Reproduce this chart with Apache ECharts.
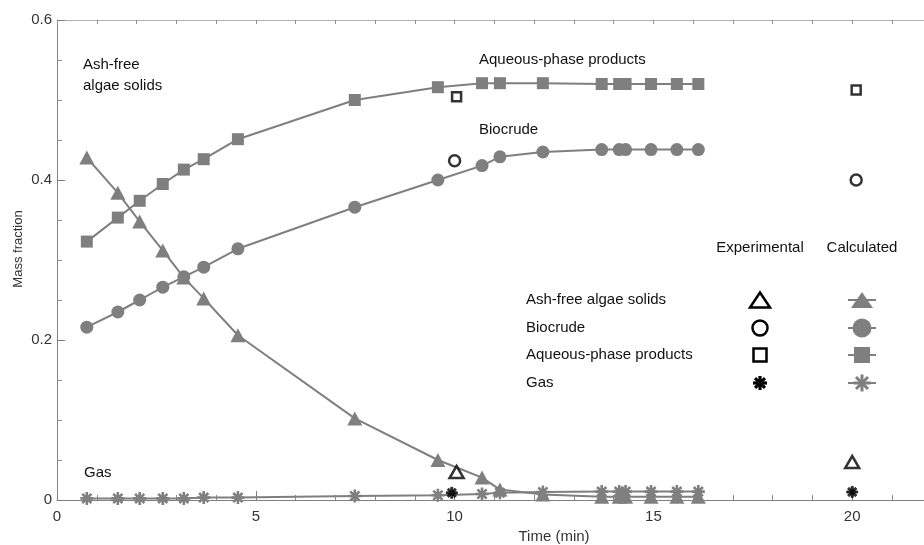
<!DOCTYPE html>
<html>
<head>
<meta charset="utf-8">
<script src="https://cdn.jsdelivr.net/npm/echarts@6/dist/echarts.min.js"></script>
<style>
  html, body { margin: 0; padding: 0; background: #fff; }
  #chart { width: 924px; height: 545px; }
</style>
</head>
<body>
<div id="chart"></div>
<script>
// Model time grid (min) shared by all calculated curves
const time = [0.75, 1.53, 2.08, 2.66, 3.19, 3.69, 4.55, 7.49, 9.58, 10.69, 11.14, 12.22, 13.7, 14.14, 14.3, 14.94, 15.59, 16.13];

// Calculated mass fractions
const solidsCalc   = [0.428, 0.384, 0.348, 0.312, 0.278, 0.252, 0.206, 0.102, 0.050, 0.028, 0.013, 0.007, 0.004, 0.004, 0.004, 0.004, 0.004, 0.004];
const biocrudeCalc = [0.216, 0.235, 0.250, 0.266, 0.279, 0.291, 0.314, 0.366, 0.400, 0.418, 0.429, 0.435, 0.438, 0.438, 0.438, 0.438, 0.438, 0.438];
const aqueousCalc  = [0.323, 0.353, 0.374, 0.395, 0.413, 0.426, 0.451, 0.500, 0.516, 0.521, 0.521, 0.521, 0.520, 0.520, 0.520, 0.520, 0.520, 0.520];
const gasCalc      = [0.002, 0.002, 0.002, 0.002, 0.002, 0.003, 0.003, 0.005, 0.006, 0.0075, 0.009, 0.010, 0.0105, 0.0105, 0.0105, 0.0105, 0.0105, 0.0105];

// Experimental measurements
const solidsExpTime   = [10.05, 20.0];
const solidsExp       = [0.035, 0.0475];
const biocrudeExpTime = [10.0, 20.1];
const biocrudeExp     = [0.424, 0.400];
const aqueousExpTime  = [10.05, 20.1];
const aqueousExp      = [0.504, 0.5125];
const gasExpTime      = [9.93, 20.0];
const gasExp          = [0.009, 0.010];

// Axis ticks and legend text
const yTicks = [0, 0.2, 0.4, 0.6];
const seriesNames = ['Ash-free algae solids', 'Biocrude', 'Aqueous-phase products', 'Gas'];
const legendHeads = ['Experimental', 'Calculated'];

const FONT = '"Liberation Sans", Arial, Helvetica, sans-serif';
const GREY = '#7f7f7f';
// eight-armed asterisk built from four bars
const STAR = 'path://M-1,-0.2L1,-0.2L1,0.2L-1,0.2Z M-0.2,-1L0.2,-1L0.2,1L-0.2,1Z M-0.5657,-0.8485L0.8485,0.5657L0.5657,0.8485L-0.8485,-0.5657Z M-0.8485,0.5657L0.5657,-0.8485L0.8485,-0.5657L-0.5657,0.8485Z';

const pairs = (xs, ys) => xs.map((x, i) => [x, ys[i]]);

function calcSeries(name, values, symbol, size, z) {
  return {
    type: 'line', name: name + ' (calculated)',
    data: pairs(time, values),
    symbol: symbol, symbolSize: size, showSymbol: true,
    lineStyle: { color: GREY, width: 2 },
    itemStyle: { color: GREY },
    z: z, animation: false
  };
}
function expSeries(name, xs, ys, symbol, size, solid) {
  return {
    type: 'scatter', name: name + ' (experimental)',
    data: pairs(xs, ys),
    symbol: symbol, symbolSize: size,
    itemStyle: solid
      ? { color: '#000', borderColor: '#000', borderWidth: 0.8 }
      : { color: '#fff', borderColor: '#000', borderWidth: 2.5 },
    z: 10, animation: false
  };
}

// ---- legend block (two columns of markers) ----
const rowY = [300, 328, 355, 383];
const expX = 760, calcX = 862;
function marker(kind, cx, cy, s, style) {
  if (kind === 'triangle') {
    return { type: 'polygon', shape: { points: [[cx, cy - s[1] / 2], [cx + s[0] / 2, cy + s[1] / 2], [cx - s[0] / 2, cy + s[1] / 2]] }, style: style };
  }
  if (kind === 'circle') {
    return { type: 'circle', shape: { cx: cx, cy: cy, r: s[0] / 2 }, style: style };
  }
  if (kind === 'rect') {
    return { type: 'rect', shape: { x: cx - s[0] / 2, y: cy - s[1] / 2, width: s[0], height: s[1] }, style: style };
  }
  // asterisk: four strokes through the centre
  const r = s[0] / 2, d = r * Math.SQRT1_2;
  const segs = [[-r, 0, r, 0], [0, -r, 0, r], [-d, -d, d, d], [-d, d, d, -d]];
  return {
    type: 'group',
    children: segs.map(g => ({
      type: 'line',
      shape: { x1: cx + g[0], y1: cy + g[1], x2: cx + g[2], y2: cy + g[3] },
      style: { stroke: style.fill, lineWidth: style.starWidth }
    }))
  };
}
const kinds = ['triangle', 'circle', 'rect', 'star'];
const expSizes = [[20, 15], [15, 15], [13, 13], [14, 14]];
const calcSizes = [[22, 16], [19, 19], [16, 16], [17, 17]];
const hollow = { fill: '#fff', stroke: '#000', lineWidth: 2.5 };
const solidBlack = { fill: '#000', starWidth: 3.2 };

const graphics = [];
const textStyle = (t, align) => ({ text: t, font: '15px ' + FONT, fill: '#111', align: align, verticalAlign: 'middle' });
graphics.push({ type: 'text', x: expX, y: 248, style: textStyle(legendHeads[0], 'center') });
graphics.push({ type: 'text', x: calcX, y: 248, style: textStyle(legendHeads[1], 'center') });
seriesNames.forEach((n, i) => {
  graphics.push({ type: 'text', x: 526, y: rowY[i], style: textStyle(n, 'left') });
  graphics.push(marker(kinds[i], expX, rowY[i], expSizes[i], kinds[i] === 'star' ? solidBlack : hollow));
  graphics.push({ type: 'line', shape: { x1: 848, y1: rowY[i], x2: 876, y2: rowY[i] }, style: { stroke: GREY, lineWidth: 2 } });
  graphics.push(marker(kinds[i], calcX, rowY[i], calcSizes[i], { fill: GREY, starWidth: 3 }));
});

// In-plot curve labels
graphics.push({ type: 'text', x: 83, y: 75.5, style: Object.assign(textStyle('Ash-free\nalgae solids', 'left'), { lineHeight: 21 }) });
graphics.push({ type: 'text', x: 479, y: 60, style: textStyle('Aqueous-phase products', 'left') });
graphics.push({ type: 'text', x: 479, y: 130, style: textStyle('Biocrude', 'left') });
graphics.push({ type: 'text', x: 84, y: 473, style: textStyle('Gas', 'left') });

const chart = echarts.init(document.getElementById('chart'), null, { renderer: 'canvas' });
chart.setOption({
  animation: false,
  backgroundColor: '#fff',
  textStyle: { fontFamily: FONT },
  // the time axis runs on past the right edge of the page
  grid: { left: 57, top: 20, bottom: 45, right: -127, containLabel: false, outerBoundsMode: 'none' },
  xAxis: [
    {
      type: 'value', position: 'bottom', min: 0, max: 25, interval: 5,
      name: 'Time (min)', nameLocation: 'middle', nameGap: 27,
      nameTextStyle: { fontSize: 15, color: '#333', fontFamily: FONT },
      axisLine: { show: true, onZero: false, lineStyle: { color: '#808080', width: 1 } },
      axisTick: { show: true, inside: true, length: 9, lineStyle: { color: '#808080' } },
      minorTick: { show: true, splitNumber: 5, length: 5, lineStyle: { color: '#8a8a8a' } },
      axisLabel: { fontSize: 15, color: '#333', margin: 9, fontFamily: FONT },
      splitLine: { show: false }
    },
    {
      type: 'value', position: 'top', min: 0, max: 25, interval: 1,
      axisLine: { show: true, onZero: false, lineStyle: { color: '#b0b0b0', width: 1 } },
      axisTick: { show: true, inside: true, length: 4, lineStyle: { color: '#909090' } },
      axisLabel: { show: false },
      splitLine: { show: false }
    }
  ],
  yAxis: {
    type: 'value', min: yTicks[0], max: yTicks[yTicks.length - 1], interval: yTicks[1] - yTicks[0],
    name: 'Mass fraction', nameLocation: 'middle', nameGap: 32, nameRotate: 90, nameMoveOverlap: false,
    nameTextStyle: { fontSize: 13, color: '#333', fontFamily: FONT, padding: [0, 0, 0, 22] },
    axisLine: { show: true, lineStyle: { color: '#808080', width: 1 } },
    axisTick: { show: true, inside: true, length: 8, lineStyle: { color: '#808080' } },
    minorTick: { show: true, splitNumber: 4, length: 5, lineStyle: { color: '#8a8a8a' } },
    axisLabel: { fontSize: 15, color: '#333', margin: 5, fontFamily: FONT },
    splitLine: { show: false }
  },
  series: [
    calcSeries(seriesNames[3], gasCalc, STAR, 13, 2),
    calcSeries(seriesNames[2], aqueousCalc, 'rect', 12, 3),
    calcSeries(seriesNames[1], biocrudeCalc, 'circle', 13, 4),
    calcSeries(seriesNames[0], solidsCalc, 'triangle', [15, 14], 5),
    expSeries(seriesNames[0], solidsExpTime, solidsExp, 'triangle', [14, 12], false),
    expSeries(seriesNames[1], biocrudeExpTime, biocrudeExp, 'circle', 11, false),
    expSeries(seriesNames[2], aqueousExpTime, aqueousExp, 'rect', 9, false),
    expSeries(seriesNames[3], gasExpTime, gasExp, STAR, 11, true)
  ],
  graphic: graphics
});
</script>
</body>
</html>
